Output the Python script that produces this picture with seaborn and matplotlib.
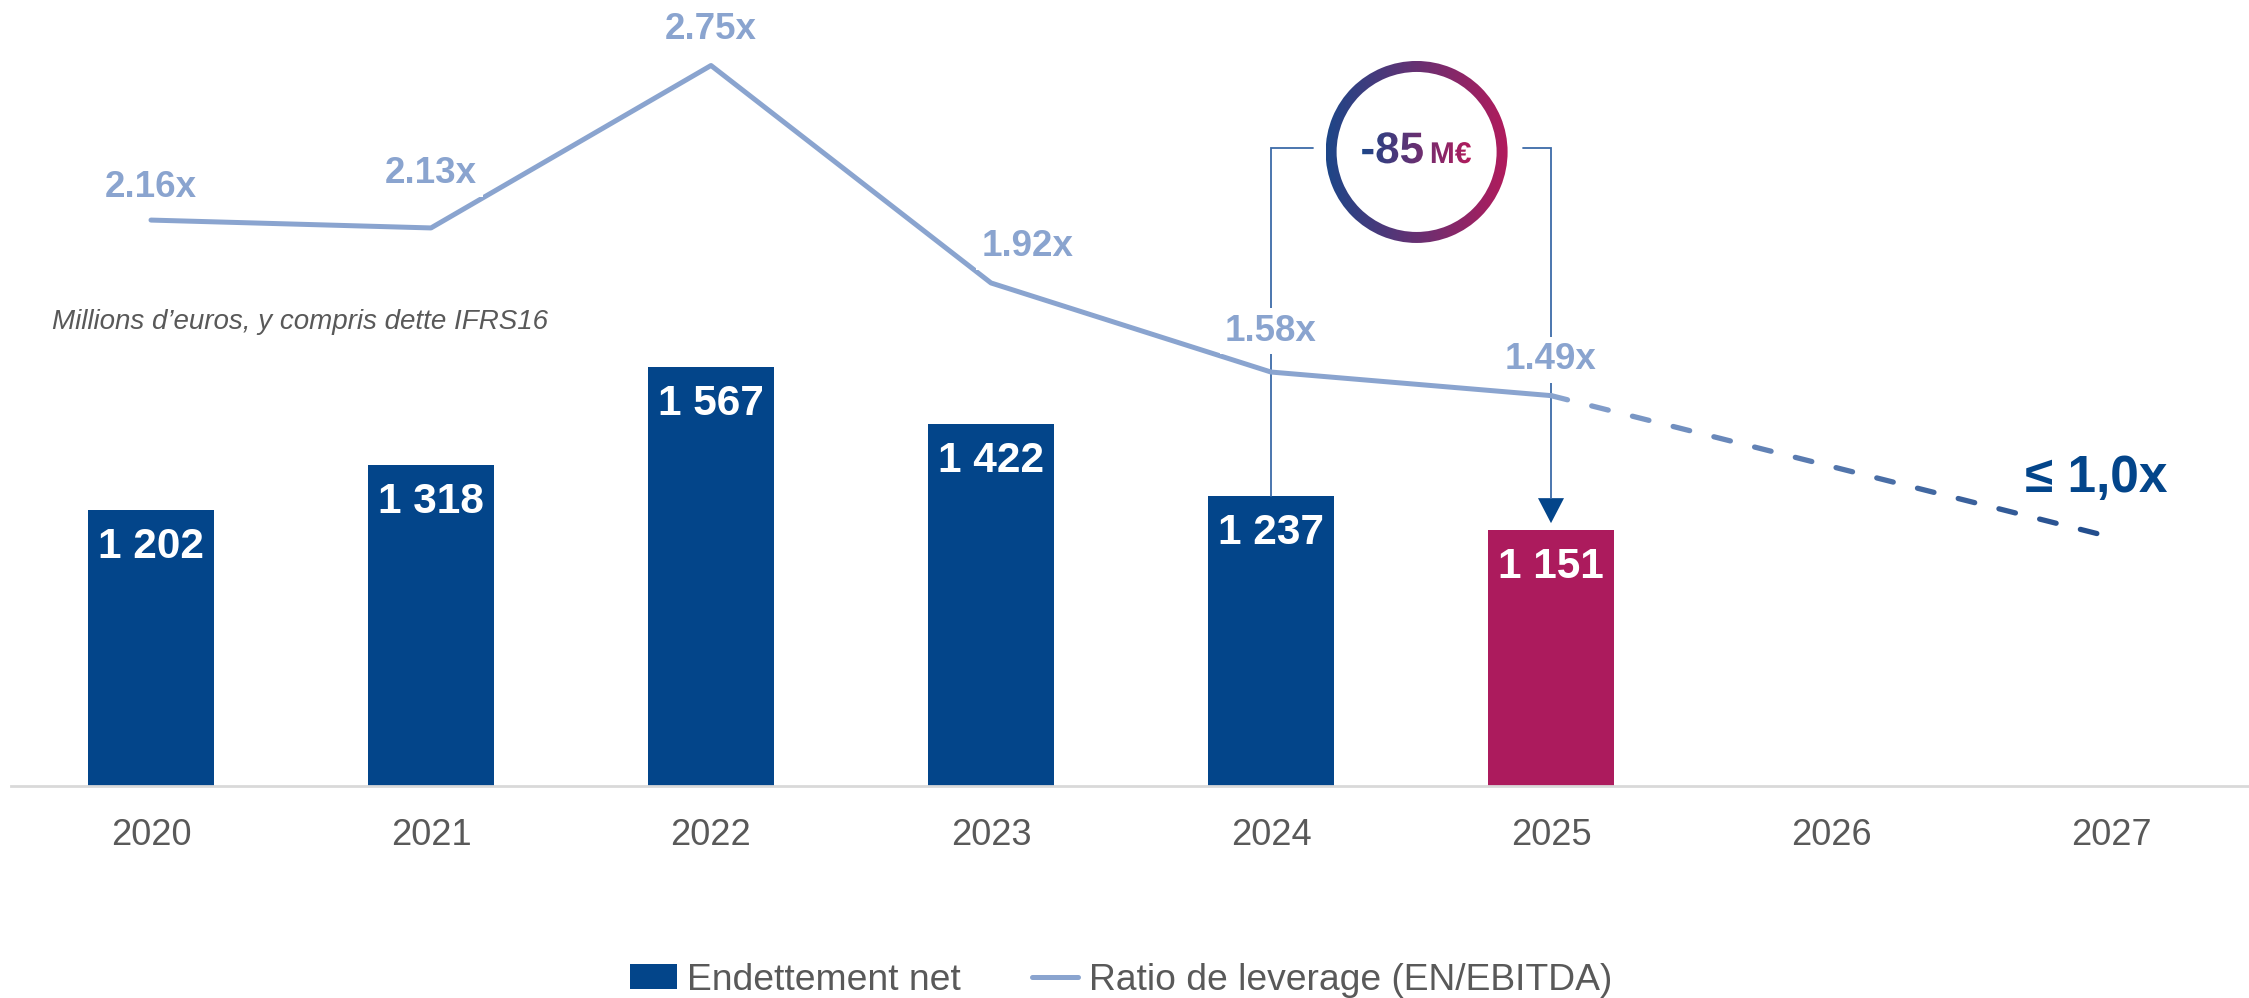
import numpy as np
import pandas as pd
import matplotlib
matplotlib.use("Agg")
import matplotlib.pyplot as plt
import seaborn as sns
from matplotlib.patches import Wedge, Patch, PathPatch, Polygon
from matplotlib.lines import Line2D
from matplotlib.collections import LineCollection
from matplotlib.textpath import TextPath
from matplotlib.font_manager import FontProperties
from matplotlib.colors import LinearSegmentedColormap, to_rgb
from matplotlib.transforms import Affine2D

# ---------------- data ----------------
years = ["2020", "2021", "2022", "2023", "2024", "2025", "2026", "2027"]
debt_years = ["2020", "2021", "2022", "2023", "2024", "2025"]
net_debt = [1202, 1318, 1567, 1422, 1237, 1151]
leverage = [2.16, 2.13, 2.75, 1.92, 1.58, 1.49]
leverage_labels = ["2.16x", "2.13x", "2.75x", "1.92x", "1.58x", "1.49x"]
target_year = "2027"
target_leverage = 0.95
target_label = "≤ 1,0x"
reduction_value = "-85"
reduction_unit = "M€"
subtitle = "Millions d’euros, y compris dette IFRS16"
legend_labels = ["Endettement net", "Ratio de leverage (EN/EBITDA)"]

# ---------------- style ----------------
W, H, DPI = 2249, 998, 100
PT = 72 / DPI  # points per pixel
sns.set_style("white")
plt.rcParams["font.family"] = ["Liberation Sans", "DejaVu Sans"]

BLUE = "#03458A"
MAGENTA = "#AC1B5D"
LIGHT = "#8AA4CF"
DARKLINE = "#1F4A8A"
GREY = "#595959"
BRACKET = "#3D6BA8"

fig = plt.figure(figsize=(W / DPI, H / DPI), dpi=DPI)
ax = fig.add_axes([11 / W, (H - 786) / H, 2240 / W, 786 / H])

df = pd.DataFrame({"year": debt_years, "debt": net_debt})
pal = {y: (MAGENTA if y == "2025" else BLUE) for y in debt_years}
sns.barplot(data=df, x="year", y="debt", hue="year", palette=pal, order=years,
            hue_order=debt_years, width=0.45, saturation=1, legend=False,
            dodge=False, linewidth=0, ax=ax)

for i, v in enumerate(net_debt):
    ax.annotate(f"{v:,}".replace(",", " "), (i, v), xytext=(0, -37 * PT),
                textcoords="offset points", ha="center", va="center",
                color="white", fontsize=30.5, fontweight="bold", zorder=5)

ax.set_xlim(-0.5, 7.5)
ax.set_ylim(500, 2500)
ax.set_xlabel("")
ax.set_ylabel("")
ax.set_yticks([])
ax.tick_params(axis="x", length=0, pad=23, labelsize=26, labelcolor=GREY)
for s in ["left", "right", "top"]:
    ax.spines[s].set_visible(False)
ax.spines["bottom"].set_color("#D9D9D9")
ax.spines["bottom"].set_linewidth(2)

# ---------------- leverage line ----------------
ax2 = ax.twinx()
sns.lineplot(x=np.arange(len(leverage)), y=leverage, ax=ax2, color=LIGHT,
             lw=3.6, solid_capstyle="round")
ax2.set_xlim(-0.5, 7.5)
ax2.set_ylim(0, 3)
ax2.set_yticks([])
ax2.set_ylabel("")
for s in ax2.spines.values():
    s.set_visible(False)

label_dy = [37, 58, 40, 40, 45, 40]
label_dx = [0, 0, 0, 37, 0, 0]
for i, (v, t) in enumerate(zip(leverage, leverage_labels)):
    ax2.annotate(t, (i, v), xytext=(label_dx[i] * PT, (label_dy[i] - 4) * PT),
                 textcoords="offset points", ha="center", va="center",
                 fontsize=26.5, fontweight="bold", color=LIGHT, zorder=6,
                 bbox=dict(boxstyle="square,pad=0.15", fc="white", ec="none"))

# dashed projection with colour gradient
x0, y0 = len(leverage) - 1, leverage[-1]
x1, y1 = years.index(target_year), target_leverage
P0 = ax2.transData.transform((x0, y0))
P1 = ax2.transData.transform((x1, y1))
L = float(np.hypot(*(P1 - P0)))
on, off = 17.0, 25.0
c0, c1 = np.array(to_rgb(LIGHT)), np.array(to_rgb(DARKLINE))
segs, cols = [], []
s = 0.0
while s < L:
    e = min(s + on, L)
    ta, tb = s / L, e / L
    segs.append([(x0 + (x1 - x0) * ta, y0 + (y1 - y0) * ta),
                 (x0 + (x1 - x0) * tb, y0 + (y1 - y0) * tb)])
    tm = (ta + tb) / 2
    cols.append(tuple(c0 + (c1 - c0) * tm))
    s += on + off
lc = LineCollection(segs, colors=cols, linewidths=3.8, capstyle="round")
ax2.add_collection(lc)

ax2.annotate(target_label, (x1, y1), xytext=(-15 * PT, 45 * PT),
             textcoords="offset points", ha="center", va="baseline",
             fontsize=37, fontweight="bold", color=BLUE)

# ---------------- overlay: circle + brackets ----------------
ov = fig.add_axes([0, 0, 1, 1])
ov.axis("off")
ov.set_zorder(1)
ax2.set_zorder(2)

cx, cy = ax2.transData.transform((4.52, 2.42))
R, RW = 91, 11
cmap = LinearSegmentedColormap.from_list("grad", ["#1D4688", "#B21B5C"])
grad = np.linspace(0, 1, 256)[None, :]

ring = Wedge((cx, cy), R, 0, 360, width=RW, transform=ov.transData)
im = ov.imshow(grad, extent=[cx - R, cx + R, cy - R, cy + R], cmap=cmap,
               aspect="auto", origin="lower", interpolation="bilinear")
im.set_clip_path(ring)

fp = FontProperties(family="Liberation Sans", weight="bold")
tp1 = TextPath((0, 0), reduction_value, size=44, prop=fp)
tp2 = TextPath((0, 0), reduction_unit, size=30, prop=fp)
e1, e2 = tp1.get_extents(), tp2.get_extents()
gap = 9
total = e1.width + gap + e2.width
xa = cx - total / 2
base = H - 163
p1 = Affine2D().translate(xa - e1.x0, base).transform_path(tp1)
p2 = Affine2D().translate(xa + e1.width + gap - e2.x0, base).transform_path(tp2)
for p in (p1, p2):
    pp = PathPatch(p, transform=ov.transData)
    imt = ov.imshow(grad, extent=[xa, xa + total, base - 10, base + 50], cmap=cmap,
                    aspect="auto", origin="lower", interpolation="bilinear")
    imt.set_clip_path(pp)

yh = H - 148
xl = ax.transData.transform((4, 0))[0]
xr = ax.transData.transform((5, 0))[0]
top24 = ax.transData.transform((4, net_debt[4]))[1]
top25 = ax.transData.transform((5, net_debt[5]))[1]
tip = top25 + 7
hb = tip + 25
ov.plot([cx - R - 13, xl, xl], [yh, yh, top24], color=BRACKET, lw=1.3,
        solid_joinstyle="miter")
ov.plot([cx + R + 15, xr, xr], [yh, yh, hb], color=BRACKET, lw=1.3,
        solid_joinstyle="miter")
ov.add_patch(Polygon([(xr - 13, hb), (xr + 13, hb), (xr, tip)], closed=True,
                     facecolor=BLUE, edgecolor="none"))
ov.set_xlim(0, W)
ov.set_ylim(0, H)

# ---------------- texts ----------------
fig.text(52 / W, 1 - 322 / H, subtitle, fontsize=20, style="italic",
         color=GREY, va="center", ha="left")

handles = [Patch(facecolor=BLUE, edgecolor="none"),
           Line2D([], [], color=LIGHT, lw=3.6)]
fig.legend(handles, legend_labels, loc="center", bbox_to_anchor=(0.4985, 18 / H),
           ncol=2, frameon=False, fontsize=26.8, labelcolor=GREY,
           handlelength=1.25, handleheight=0.64, handletextpad=0.28,
           columnspacing=1.9, borderpad=0.2)

fig.savefig("out.png", dpi=DPI)
